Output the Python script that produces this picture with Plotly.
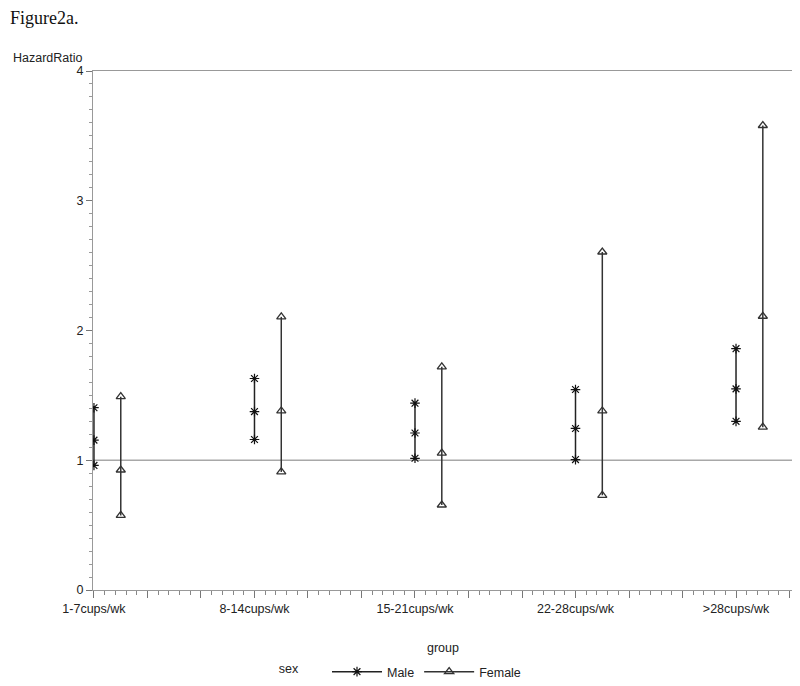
import plotly.graph_objects as go

categories = ["1-7cups/wk", "8-14cups/wk", "15-21cups/wk", "22-28cups/wk", ">28cups/wk"]
group_pos = [1, 2, 3, 4, 5]
female_offset = 0.167

male_lower = [0.96, 1.16, 1.015, 1.005, 1.30]
male_hr = [1.155, 1.375, 1.21, 1.245, 1.55]
male_upper = [1.405, 1.63, 1.44, 1.545, 1.86]

female_lower = [0.575, 0.91, 0.655, 0.73, 1.255]
female_hr = [0.925, 1.38, 1.055, 1.38, 2.11]
female_upper = [1.49, 2.105, 1.72, 2.605, 3.58]

FONT = "Liberation Sans, Arial, sans-serif"
FS = 12.5


def segs(xs, lo, mid, hi):
    X, Y = [], []
    for x, a, b, c in zip(xs, lo, mid, hi):
        X += [x, x, x, None]
        Y += [a, b, c, None]
    return X, Y


fig = go.Figure()

mx, my = segs(group_pos, male_lower, male_hr, male_upper)
fig.add_trace(go.Scatter(
    x=mx, y=my, mode="lines+markers", name="Male",
    line=dict(color="#222222", width=1.5),
    marker=dict(symbol="asterisk-open", size=8, color="#111111", line=dict(width=1.2, color="#111111")),
    connectgaps=False,
))

fx, fy = segs([g + female_offset for g in group_pos], female_lower, female_hr, female_upper)
fig.add_trace(go.Scatter(
    x=fx, y=fy, mode="lines+markers", name="Female",
    line=dict(color="#333333", width=1.5),
    marker=dict(symbol="triangle-up-open", size=8, color="#333333", line=dict(width=1.3, color="#333333")),
    connectgaps=False,
))

fig.add_hline(y=1, line=dict(color="#a8a8a8", width=1.5), layer="below")

major_vals = [1 + k / 3 for k in range(14)]
major_text = [categories[k // 3] if k % 3 == 0 and k // 3 < len(categories) else "" for k in range(14)]

fig.update_layout(
    width=792, height=678,
    paper_bgcolor="white", plot_bgcolor="white",
    margin=dict(l=85, r=7, t=63, b=96, autoexpand=False),
    font=dict(family=FONT, size=FS, color="#222222"),
    showlegend=True,
    legend=dict(
        orientation="h", x=0.441, xanchor="center", y=-0.158, yanchor="middle",
        title=dict(text="sex      ", side="left", font=dict(family=FONT, size=FS)),
        font=dict(family=FONT, size=FS),
        itemwidth=50,
        tracegroupgap=20,
    ),
    xaxis=dict(
        range=[0.994, 5.355],
        tickmode="array", tickvals=major_vals, ticktext=major_text,
        ticks="outside", ticklen=7, tickcolor="#777777", tickwidth=1,
        minor=dict(dtick=1 / 15, tick0=1, ticks="outside", ticklen=4, tickcolor="#888888"),
        showline=True, linecolor="#999999", linewidth=1, mirror=True,
        showgrid=False, zeroline=False,
        tickfont=dict(family=FONT, size=FS),
        title=dict(text="group", standoff=28, font=dict(family=FONT, size=FS)),
    ),
    yaxis=dict(
        range=[0, 4],
        tickmode="array", tickvals=[0, 1, 2, 3, 4],
        ticks="outside", ticklen=6, tickcolor="#777777", tickwidth=1,
        minor=dict(dtick=0.1, tick0=0, ticks="outside", ticklen=3, tickcolor="#999999"),
        showline=True, linecolor="#999999", linewidth=1, mirror=True,
        showgrid=False, zeroline=False,
        tickfont=dict(family=FONT, size=FS),
    ),
    annotations=[
        dict(text="Figure2a.", xref="paper", yref="paper", x=(8 - 93) / 700, y=1 + (71 - 18) / 519,
             xanchor="left", yanchor="middle", showarrow=False,
             font=dict(family="Liberation Serif, Times New Roman, serif", size=18, color="#111111")),
        dict(text="HazardRatio", xref="paper", yref="paper", x=(48 - 93) / 700, y=1 + (71 - 58) / 519,
             xanchor="center", yanchor="middle", showarrow=False,
             font=dict(family=FONT, size=FS, color="#222222")),
    ],
)

fig.write_html("out.html")
